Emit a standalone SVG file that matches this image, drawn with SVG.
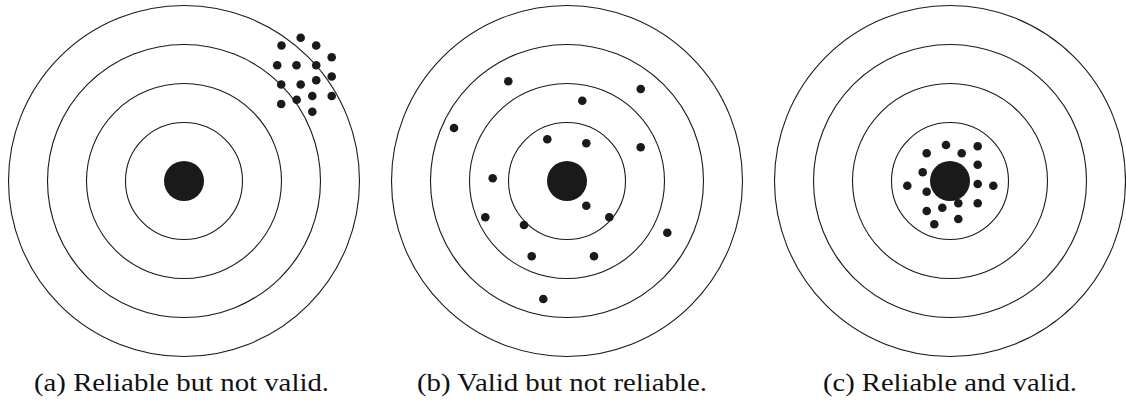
<svg xmlns="http://www.w3.org/2000/svg" width="1126" height="401" viewBox="0 0 1126 401">
<style>
.ring{fill:none;stroke:#1a1a1a;stroke-width:1.1}
.bull{fill:#1a1a1a}
.dot{fill:#1a1a1a}
.cap{font-family:"Liberation Serif","Times New Roman",serif;font-size:26px;fill:#111}
</style>
<defs>
<g id="target">
<circle class="ring" r="175.5"/>
<circle class="ring" r="136.5"/>
<circle class="ring" r="97.5"/>
<circle class="ring" r="58.5"/>
<circle class="bull" r="20"/>
</g>
</defs>
<rect width="1126" height="401" fill="#fff"/>
<g id="target-a">
<use href="#target" x="184" y="181"/>
<g class="dot">
<circle cx="300.7" cy="37.7" r="4.3"/><circle cx="281.5" cy="45.5" r="4.3"/><circle cx="316.2" cy="45.5" r="4.3"/><circle cx="331.7" cy="57.2" r="4.3"/>
<circle cx="277.2" cy="65.2" r="4.3"/><circle cx="296.5" cy="65.2" r="4.3"/><circle cx="316.2" cy="65.2" r="4.3"/><circle cx="281.2" cy="84.5" r="4.3"/>
<circle cx="300.7" cy="84.5" r="4.3"/><circle cx="316.2" cy="80.3" r="4.3"/><circle cx="331.7" cy="76.5" r="4.3"/><circle cx="281.2" cy="104" r="4.3"/>
<circle cx="296.7" cy="99.8" r="4.3"/><circle cx="312.3" cy="96" r="4.3"/><circle cx="331.7" cy="96" r="4.3"/><circle cx="312.3" cy="111.7" r="4.3"/>
</g>
<text class="cap" x="34" y="391" textLength="295" lengthAdjust="spacingAndGlyphs">(a) Reliable but not valid.</text>
</g>
<g id="target-b">
<use href="#target" x="567" y="181"/>
<g class="dot">
<circle cx="508.3" cy="81.3" r="4.3"/><circle cx="640.7" cy="89" r="4.3"/><circle cx="582.3" cy="100.7" r="4.3"/><circle cx="454" cy="128" r="4.3"/>
<circle cx="547.3" cy="139.3" r="4.3"/><circle cx="586.3" cy="143.3" r="4.3"/><circle cx="640.7" cy="147.3" r="4.3"/><circle cx="492.7" cy="178.3" r="4.3"/>
<circle cx="586.3" cy="205.7" r="4.3"/><circle cx="485.3" cy="217.3" r="4.3"/><circle cx="609.3" cy="217.3" r="4.3"/><circle cx="524" cy="225" r="4.3"/>
<circle cx="667.3" cy="232.7" r="4.3"/><circle cx="531.7" cy="256.3" r="4.3"/><circle cx="594" cy="256.3" r="4.3"/><circle cx="543.3" cy="299" r="4.3"/>
</g>
<text class="cap" x="417" y="391" textLength="290" lengthAdjust="spacingAndGlyphs">(b) Valid but not reliable.</text>
</g>
<g id="target-c">
<use href="#target" x="950" y="181"/>
<g class="dot">
<circle cx="946" cy="145" r="4.3"/><circle cx="977.7" cy="146.3" r="4.3"/><circle cx="926.7" cy="153.3" r="4.3"/><circle cx="961.7" cy="153.3" r="4.3"/>
<circle cx="977.7" cy="164.7" r="4.3"/><circle cx="922.7" cy="172.3" r="4.3"/><circle cx="907.3" cy="185.7" r="4.3"/><circle cx="977.7" cy="184" r="4.3"/>
<circle cx="993.3" cy="185.7" r="4.3"/><circle cx="926.7" cy="191.7" r="4.3"/><circle cx="977.7" cy="203.3" r="4.3"/><circle cx="958.3" cy="203.3" r="4.3"/>
<circle cx="942.3" cy="207.7" r="4.3"/><circle cx="926.7" cy="211" r="4.3"/><circle cx="958.3" cy="219" r="4.3"/><circle cx="934.3" cy="224.3" r="4.3"/>
</g>
<text class="cap" x="823" y="391" textLength="254" lengthAdjust="spacingAndGlyphs">(c) Reliable and valid.</text>
</g>
<g id="connectors"/>
</svg>
